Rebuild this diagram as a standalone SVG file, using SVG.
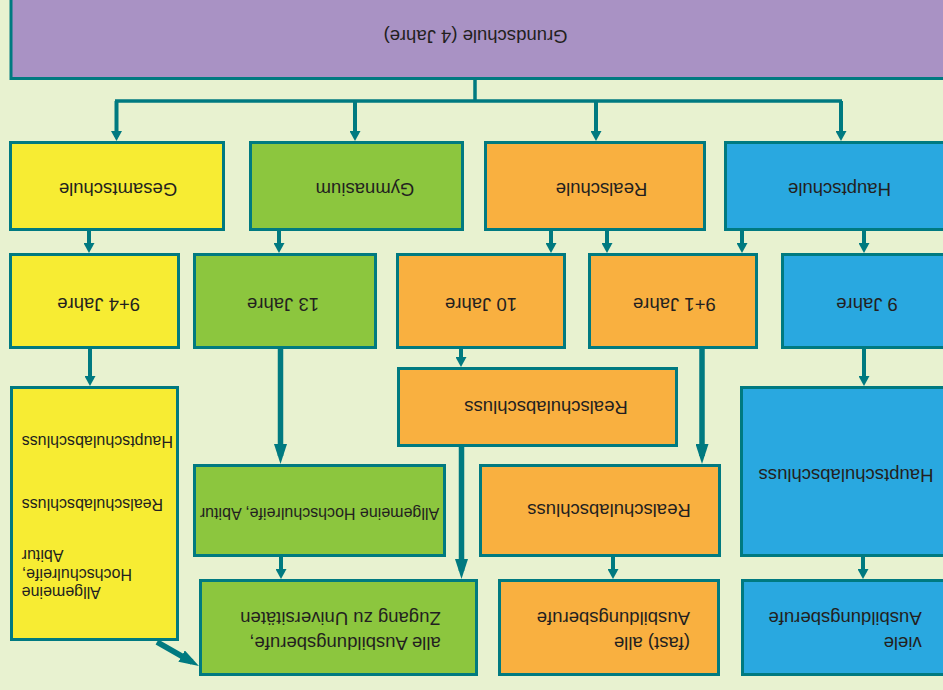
<svg xmlns="http://www.w3.org/2000/svg" width="943" height="690" viewBox="0 0 943 690">
<defs>
<style>
.bx{stroke:#007a80;stroke-width:3}
.pu{fill:#a992c4}.ye{fill:#f7ec33}.gr{fill:#8cc63e}.or{fill:#f9b040}.bl{fill:#29a8e0}
.c{fill:none;stroke:#007a80;stroke-width:4}
.ck{fill:none;stroke:#007a80;stroke-width:5.5}
.t{font-family:"Liberation Sans",Arial,sans-serif;font-size:18.5px;fill:#231f20}
.s{font-size:16px}
.m{text-anchor:middle}
.e{text-anchor:end}
</style>
<marker id="a" markerUnits="userSpaceOnUse" viewBox="0 0 10 11" markerWidth="10" markerHeight="11" refX="6" refY="5.5" orient="auto"><path d="M0,0 L10,5.5 L0,11 Z" fill="#007a80"/></marker>
<marker id="b" markerUnits="userSpaceOnUse" viewBox="0 0 20 13" markerWidth="20" markerHeight="13" refX="12" refY="6.5" orient="auto"><path d="M0,0 L20,6.5 L0,13 Z" fill="#007a80"/></marker>
</defs>
<rect width="943" height="690" fill="#e8f2d0"/>

<g id="connectors">
<path class="c" d="M475 79 V101" style="stroke-width:3.5"/>
<path class="c" d="M115 101 H842" style="stroke-width:3.5"/>
<path class="c" d="M116.5 101 V137" marker-end="url(#a)"/>
<path class="c" d="M355 101 V137" marker-end="url(#a)"/>
<path class="c" d="M596 101 V137" marker-end="url(#a)"/>
<path class="c" d="M841 101 V137" marker-end="url(#a)"/>
<path class="c" d="M89 231 V249" marker-end="url(#a)"/>
<path class="c" d="M279 231 V249" marker-end="url(#a)"/>
<path class="c" d="M551 231 V249" marker-end="url(#a)"/>
<path class="c" d="M607 231 V249" marker-end="url(#a)"/>
<path class="c" d="M742 231 V249" marker-end="url(#a)"/>
<path class="c" d="M864 231 V249" marker-end="url(#a)"/>
<path class="c" d="M90 349 V382" marker-end="url(#a)"/>
<path class="c" d="M461 349 V363" marker-end="url(#a)"/>
<path class="c" d="M864 349 V382" marker-end="url(#a)"/>
<path class="ck" d="M280.5 349 V456" marker-end="url(#b)"/>
<path class="ck" d="M702 349 V456" marker-end="url(#b)"/>
<path class="ck" d="M461.5 447 V571" marker-end="url(#b)"/>
<path class="c" d="M281 557 V575" marker-end="url(#a)"/>
<path class="c" d="M613 557 V575" marker-end="url(#a)"/>
<path class="c" d="M863 557 V575" marker-end="url(#a)"/>
<path class="ck" d="M157 642 L192 662" marker-end="url(#b)"/>
</g>

<g id="grundschule">
<rect class="bx pu" x="11" y="-10" width="950" height="88.5"/>
<text class="t m" x="475.5" y="30" transform="rotate(180 475.5 30)">Grundschule (4 Jahre)</text>
</g>
<g id="gesamtschule">
<rect class="bx ye" x="10.5" y="142.5" width="213" height="87"/>
<text class="t m" x="118" y="183" transform="rotate(180 118 183)">Gesamtschule</text>
</g>
<g id="gymnasium">
<rect class="bx gr" x="250.5" y="142.5" width="212" height="87"/>
<text class="t m" x="365" y="183" transform="rotate(180 365 183)">Gymnasium</text>
</g>
<g id="realschule">
<rect class="bx or" x="485.5" y="142.5" width="219" height="87"/>
<text class="t m" x="601.5" y="183" transform="rotate(180 601.5 183)">Realschule</text>
</g>
<g id="hauptschule">
<rect class="bx bl" x="725.5" y="142.5" width="230" height="87"/>
<text class="t m" x="839.5" y="183" transform="rotate(180 839.5 183)">Hauptschule</text>
</g>

<g id="gesamt-jahre">
<rect class="bx ye" x="10.5" y="254.5" width="168" height="93"/>
<text class="t m" x="98.7" y="298" transform="rotate(180 98.7 298)">9+4 Jahre</text>
</g>
<g id="gym-jahre">
<rect class="bx gr" x="194.5" y="254.5" width="181" height="93"/>
<text class="t m" x="283" y="298" transform="rotate(180 283 298)">13 Jahre</text>
</g>
<g id="real-10">
<rect class="bx or" x="397.5" y="254.5" width="167" height="93"/>
<text class="t m" x="481" y="298" transform="rotate(180 481 298)">10 Jahre</text>
</g>
<g id="real-9plus1">
<rect class="bx or" x="589.5" y="254.5" width="167" height="93"/>
<text class="t m" x="674.3" y="298" transform="rotate(180 674.3 298)">9+1 Jahre</text>
</g>
<g id="haupt-jahre">
<rect class="bx bl" x="782.5" y="254.5" width="170" height="93"/>
<text class="t m" x="867" y="298" transform="rotate(180 867 298)">9 Jahre</text>
</g>

<g id="gesamt-abschluss">
<rect class="bx ye" x="11.5" y="387.5" width="166" height="252"/>
<text class="t s e" x="21.7" y="435.5" transform="rotate(180 21.7 435.5)">Hauptschulabschluss</text>
<text class="t s e" x="21.7" y="499" transform="rotate(180 21.7 499)">Realschulabschluss</text>
<text class="t s e" x="21.7" y="587" transform="rotate(180 21.7 587)">Allgemeine<tspan x="21.7" dy="18.5">Hochschulreife,</tspan><tspan x="21.7" dy="19">Abitur</tspan></text>
</g>
<g id="real-abschluss-10">
<rect class="bx or" x="398.5" y="368.5" width="278" height="77"/>
<text class="t m" x="546" y="400.7" transform="rotate(180 546 400.7)">Realschulabschluss</text>
</g>
<g id="abitur">
<rect class="bx gr" x="194.5" y="465.5" width="250" height="90"/>
<text class="t s m" x="319.5" y="508.3" transform="rotate(180 319.5 508.3)">Allgemeine Hochschulreife, Abitur</text>
</g>
<g id="real-abschluss-9plus1">
<rect class="bx or" x="480.5" y="465.5" width="239" height="90"/>
<text class="t m" x="609" y="503.5" transform="rotate(180 609 503.5)">Realschulabschluss</text>
</g>
<g id="haupt-abschluss">
<rect class="bx bl" x="741.5" y="387.5" width="210" height="168"/>
<text class="t m" x="846" y="468.5" transform="rotate(180 846 468.5)">Hauptschulabschluss</text>
</g>

<g id="alle">
<rect class="bx gr" x="200.5" y="580.5" width="276" height="94"/>
<text class="t" x="440.7" y="636.7" transform="rotate(180 440.7 636.7)">alle Ausbildungsberufe,<tspan x="440.7" dy="25">Zugang zu Universitäten</tspan></text>
</g>
<g id="fast-alle">
<rect class="bx or" x="499.5" y="580.5" width="219" height="94"/>
<text class="t" x="690" y="636.5" transform="rotate(180 690 636.5)">(fast) alle<tspan x="690" dy="25">Ausbildungsberufe</tspan></text>
</g>
<g id="viele">
<rect class="bx bl" x="742.5" y="580.5" width="210" height="94"/>
<text class="t" x="921.7" y="636.5" transform="rotate(180 921.7 636.5)">viele<tspan x="921.7" dy="25">Ausbildungsberufe</tspan></text>
</g>
</svg>
